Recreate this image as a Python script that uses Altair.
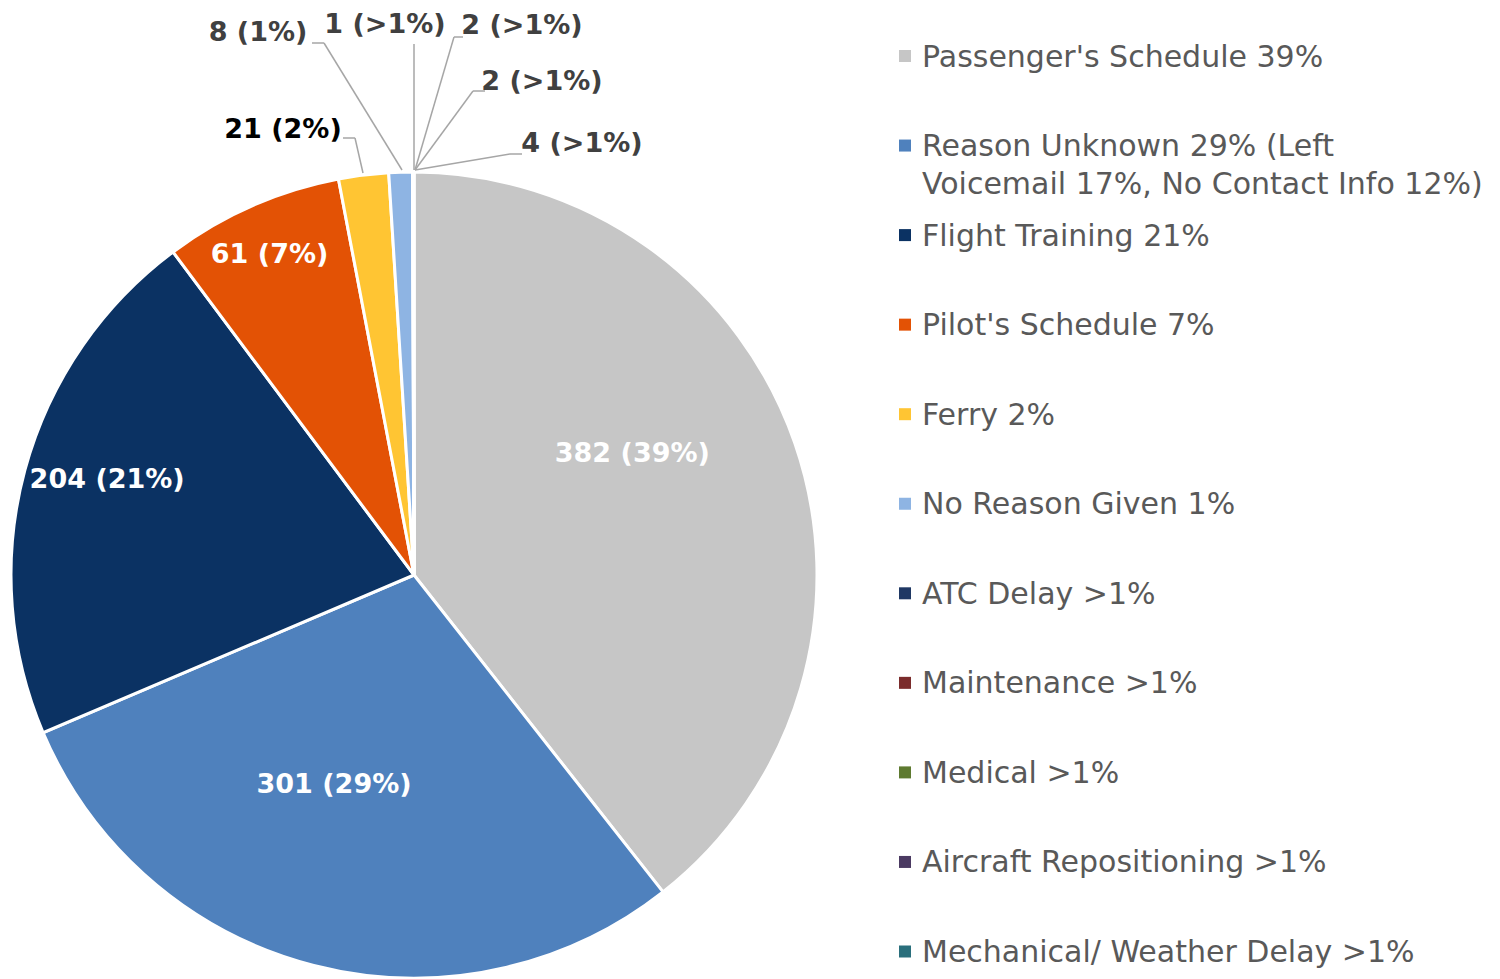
import altair as alt
import pandas as pd

# ---------------- data ----------------
CATEGORIES = [
    "Passenger's Schedule", "Reason Unknown", "Flight Training", "Pilot's Schedule",
    "Ferry", "No Reason Given", "ATC Delay", "Maintenance", "Medical",
    "Aircraft Repositioning", "Mechanical/ Weather Delay",
]
LEGEND_LABELS = [
    "Passenger's Schedule 39%",
    "Reason Unknown 29% (Left\nVoicemail 17%, No Contact Info 12%)",
    "Flight Training 21%",
    "Pilot's Schedule 7%",
    "Ferry 2%",
    "No Reason Given 1%",
    "ATC Delay >1%",
    "Maintenance >1%",
    "Medical >1%",
    "Aircraft Repositioning >1%",
    "Mechanical/ Weather Delay >1%",
]
COUNTS = [382, 301, 204, 61, 21, 8, 1, 2, 2, 4, 0]
PERCENT_TEXT = ["39%", "29%", "21%", "7%", "2%", "1%", ">1%", ">1%", ">1%", ">1%", ""]
# share of the circle taken by each slice, as measured from the slice angles
SLICE_SHARE = [39.4, 29.2, 21.2, 7.2, 2.0, 0.94, 0.01, 0.015, 0.015, 0.02, 0.0]
COLORS = ["#C6C6C6", "#4F81BD", "#0B3263", "#E35205", "#FFC533", "#8EB4E3",
          "#1F3864", "#7B2C2C", "#5E7A30", "#4B3A62", "#2A6F7C"]

labels = [f"{c} ({p})" if p else "" for c, p in zip(COUNTS, PERCENT_TEXT)]
df = pd.DataFrame({
    "idx": list(range(len(CATEGORIES))),
    "category": CATEGORIES,
    "legend": LEGEND_LABELS,
    "share": SLICE_SHARE,
    "label": labels,
})

# ---------------- layout / style ----------------
FONT = "DejaVu Sans"
W, H = 1484, 971
CX, CY, R = 406, 567, 403

base = alt.Chart(df)
theta = alt.Theta("share:Q", stack=True)
order = alt.Order("idx:Q", sort="ascending")
color = alt.Color("category:N", scale=alt.Scale(domain=CATEGORIES, range=COLORS), legend=None)

arc = base.mark_arc(outerRadius=R, stroke="white", strokeWidth=3).encode(
    theta=theta, order=order, color=color, x=alt.value(CX), y=alt.value(CY)
)

layers = [arc]

# inner labels: (index, radius, dx, dy)
INNER = [(0, 249, -17, -40), (1, 225, -24, -8), (2, 322, 4, -11), (3, 351, -3, 1)]
for i, rad, dx, dy in INNER:
    layers.append(
        base.transform_calculate(t=f"datum.idx == {i} ? datum.label : ''")
        .mark_text(radius=rad, dx=dx, dy=dy, font=FONT, fontSize=27, fontWeight="bold",
                   color="white", align="center", baseline="middle")
        .encode(theta=theta, order=order, text="t:N", x=alt.value(CX), y=alt.value(CY))
    )

# outside call-outs: (index, text centre, leader points, text colour) in page pixels
CALLOUTS = [
    (4, (283, 130), [(343, 138), (355, 138), (363, 173)], "#000000"),
    (5, (258, 33), [(312, 43), (324, 43), (402, 170)], "#404040"),
    (6, (385, 25), [(414, 44), (414, 170)], "#404040"),
    (7, (522, 26), [(463, 37), (454, 37), (415, 170)], "#404040"),
    (8, (542, 82), [(485, 91), (473, 91), (415, 170)], "#404040"),
    (9, (582, 144), [(522, 154), (510, 154), (415, 170)], "#404040"),
]
for i, (tx, ty), pts, col in CALLOUTS:
    one = base.transform_filter(f"datum.idx == {i}")
    for (x1, y1), (x2, y2) in zip(pts[:-1], pts[1:]):
        layers.append(
            one.mark_rule(color="#A6A6A6", strokeWidth=1.5).encode(
                x=alt.value(x1 - 8), y=alt.value(y1 - 8),
                x2=alt.value(x2 - 8), y2=alt.value(y2 - 8))
        )
    layers.append(
        one.mark_text(font=FONT, fontSize=27, fontWeight="bold", color=col,
                      align="center", baseline="middle")
        .encode(x=alt.value(tx - 8), y=alt.value(ty - 8), text="label:N")
    )

# legend drawn as marks on an ordinal y scale
ly = alt.Y("category:N", sort=CATEGORIES,
           scale=alt.Scale(type="point", range=[48, 943.5], padding=0), axis=None)
legend_pts = base.mark_point(shape="square", filled=True, size=144, opacity=1).encode(
    x=alt.value(897), y=ly, color=color)
legend_txt = base.mark_text(align="left", baseline="alphabetic", dy=10.5, font=FONT,
                            fontSize=30, lineHeight=38, lineBreak="\n",
                            color="#595959").encode(
    x=alt.value(914), y=ly, text="legend:N")
layers += [legend_pts, legend_txt]

chart = alt.layer(*layers).properties(
    width=W, height=H, autosize=alt.AutoSizeParams(type="none"), padding=0,
    background="white"
).configure_view(stroke=None)

chart.save("out.html", embed_options={"renderer": "svg", "actions": False})
